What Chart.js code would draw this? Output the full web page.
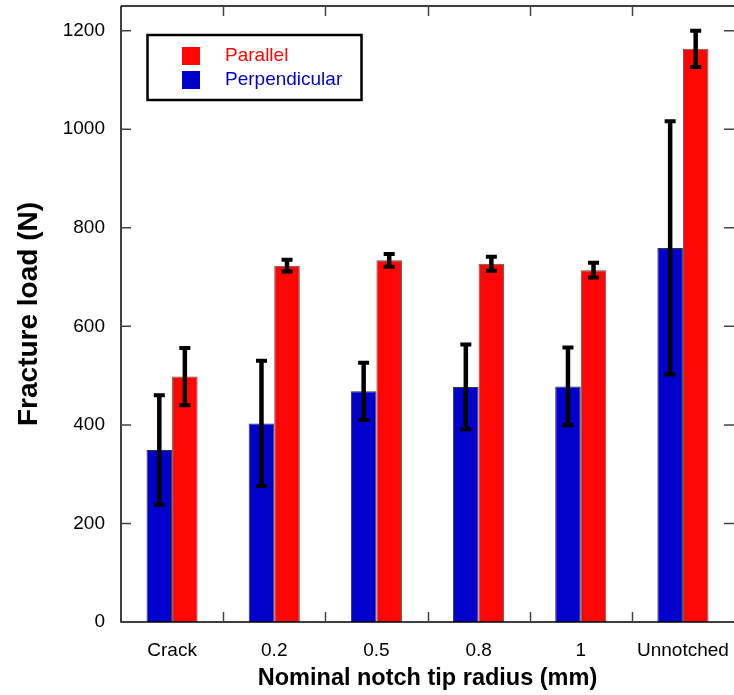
<!DOCTYPE html>
<html>
<head>
<meta charset="utf-8">
<script src="https://cdn.jsdelivr.net/npm/chart.js@4.4.1/dist/chart.umd.min.js"></script>
<style>
  html, body { margin: 0; padding: 0; background: #fff; }
  canvas { display: block; }
</style>
</head>
<body>
<canvas id="chart" width="734" height="695"></canvas>
<script>
const categories = ["Crack", "0.2", "0.5", "0.8", "1", "Unnotched"];
const perpendicular = [349, 403, 468, 477, 478, 759];
const perpendicularErr = [111, 127, 58, 86, 79, 257];
const parallel = [498, 723, 734, 727, 714, 1163];
const parallelErr = [58, 12, 13, 14, 15, 37];
const yTicks = [0, 200, 400, 600, 800, 1000, 1200];

const FONT = 'Arial, "Liberation Sans", Helvetica, sans-serif';

// frame, inward ticks, error bars and the boxed legend
const extras = {
  id: "extras",
  afterDatasetsDraw(chart) {
    const ctx = chart.ctx;
    const { left, right, top, bottom } = chart.chartArea;
    const x = chart.scales.x;
    const y = chart.scales.y;
    ctx.save();

    // error bars
    const errs = [perpendicularErr, parallelErr];
    chart.data.datasets.forEach((ds, di) => {
      const meta = chart.getDatasetMeta(di);
      meta.data.forEach((bar, i) => {
        const v = ds.data[i];
        const yHi = y.getPixelForValue(v + errs[di][i]);
        const yLo = y.getPixelForValue(v - errs[di][i]);
        ctx.strokeStyle = "#000";
        ctx.lineWidth = 4.5;
        ctx.beginPath();
        ctx.moveTo(bar.x, yHi);
        ctx.lineTo(bar.x, yLo);
        ctx.stroke();
        ctx.lineWidth = 4;
        ctx.beginPath();
        ctx.moveTo(bar.x - 5.5, yHi);
        ctx.lineTo(bar.x + 5.5, yHi);
        ctx.moveTo(bar.x - 5.5, yLo);
        ctx.lineTo(bar.x + 5.5, yLo);
        ctx.stroke();
      });
    });

    // frame
    ctx.strokeStyle = "#000";
    ctx.lineWidth = 1.5;
    ctx.beginPath();
    ctx.moveTo(left, top);
    ctx.lineTo(right, top);
    ctx.moveTo(left, top);
    ctx.lineTo(left, bottom);
    ctx.lineTo(right, bottom);
    ctx.stroke();

    // ticks pointing inward
    ctx.strokeStyle = "#444";
    ctx.lineWidth = 1.5;
    ctx.beginPath();
    yTicks.forEach(t => {
      const py = y.getPixelForValue(t);
      ctx.moveTo(left, py);
      ctx.lineTo(left + 10, py);
      ctx.moveTo(right, py);
      ctx.lineTo(right - 10, py);
    });
    const step = (right - left) / categories.length;
    for (let i = 1; i < categories.length; i++) {
      const px = Math.round(x.getPixelForValue(i) - step / 2) + 0.5;
      ctx.moveTo(px, bottom);
      ctx.lineTo(px, bottom - 10);
      ctx.moveTo(px, top);
      ctx.lineTo(px, top + 10);
    }
    ctx.stroke();

    // legend
    ctx.strokeStyle = "#000";
    ctx.lineWidth = 2.5;
    ctx.strokeRect(147.5, 35, 214, 65);
    ctx.font = "19px " + FONT;
    ctx.textBaseline = "middle";
    const order = [1, 0];
    order.forEach((di, k) => {
      const ds = chart.data.datasets[di];
      const cy = 56 + k * 24;
      ctx.fillStyle = ds.backgroundColor;
      ctx.fillRect(182, cy - 9, 18, 18);
      ctx.fillText(ds.label, 225, cy);
    });
    ctx.restore();
  }
};

new Chart(document.getElementById("chart"), {
  type: "bar",
  data: {
    labels: categories,
    datasets: [
      {
        label: "Perpendicular",
        data: perpendicular,
        backgroundColor: "#0000cc",
        borderColor: "#333",
        borderWidth: 1
      },
      {
        label: "Parallel",
        data: parallel,
        backgroundColor: "#ff0505",
        borderColor: "#555",
        borderWidth: 1
      }
    ]
  },
  options: {
    responsive: false,
    animation: false,
    layout: { padding: { top: 6, right: 0, left: 0, bottom: 0 } },
    datasets: { bar: { categoryPercentage: 0.5, barPercentage: 1.0 } },
    plugins: {
      legend: { display: false },
      tooltip: { enabled: false }
    },
    scales: {
      x: {
        grid: { display: false, drawTicks: false },
        border: { display: false },
        ticks: { color: "#000", font: { family: FONT, size: 19 }, padding: 17, maxRotation: 0 },
        title: {
          display: true,
          text: "Nominal notch tip radius (mm)",
          color: "#000",
          font: { family: FONT, size: 23.5, weight: "bold" },
          padding: { top: 0, bottom: 2 }
        },
        afterFit(scale) {
          scale.height = 73;
          scale.paddingLeft = 0;
          scale.paddingRight = 0;
        }
      },
      y: {
        min: 0,
        max: 1250,
        grid: { display: false, drawTicks: false },
        border: { display: false },
        ticks: {
          stepSize: 200,
          color: "#000",
          font: { family: FONT, size: 19 },
          padding: 16,
          callback: v => String(v)
        },
        afterBuildTicks(scale) {
          scale.ticks = yTicks.map(v => ({ value: v }));
        },
        title: {
          display: true,
          text: "Fracture load (N)",
          color: "#000",
          font: { family: FONT, size: 28, weight: "bold" },
          padding: { top: 12, bottom: 0 }
        },
        afterFit(scale) {
          scale.width = 121;
          scale.paddingTop = 0;
          scale.paddingBottom = 0;
        }
      }
    }
  },
  plugins: [extras]
});
</script>
</body>
</html>
